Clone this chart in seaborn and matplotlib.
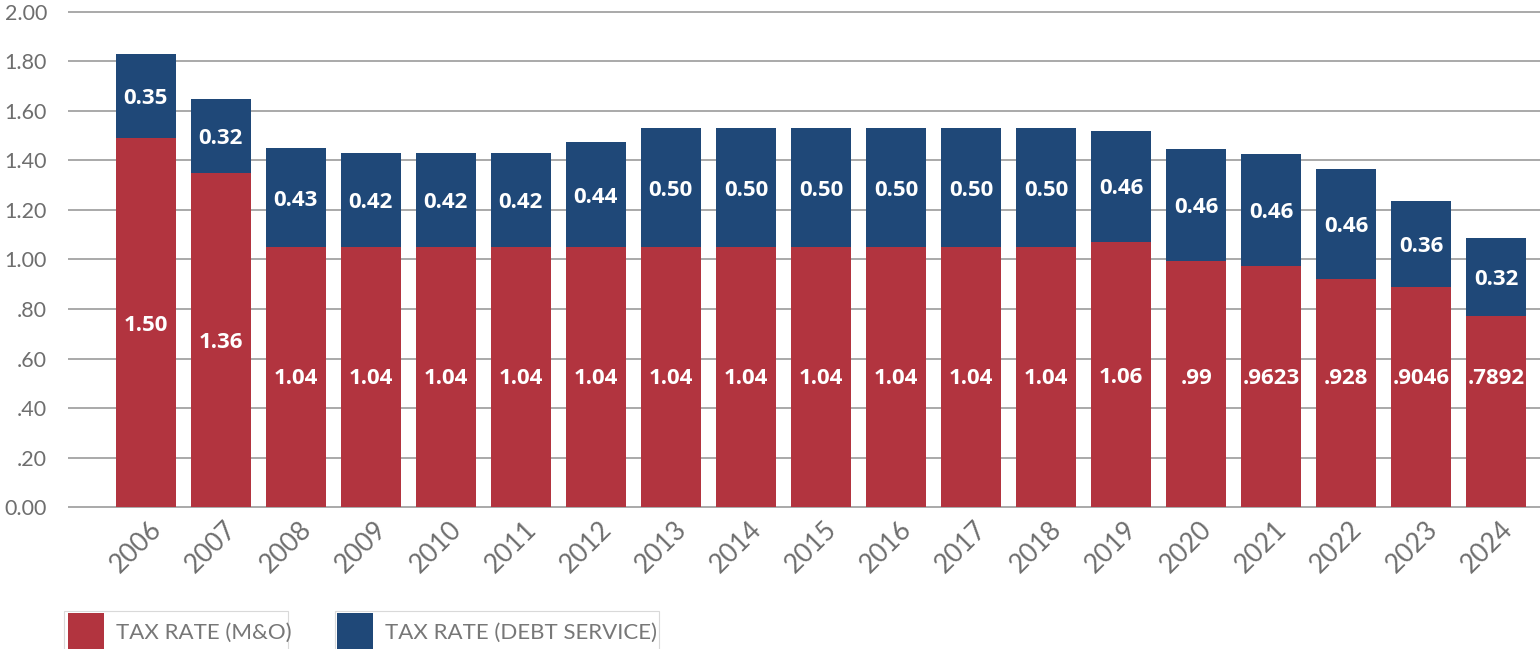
import matplotlib
matplotlib.use("Agg")
import matplotlib.pyplot as plt
import matplotlib.transforms as mtransforms
from matplotlib.patches import Rectangle
import pandas as pd
import seaborn as sns

# ---- data ----
years = ['2006', '2007', '2008', '2009', '2010', '2011', '2012', '2013', '2014',
         '2015', '2016', '2017', '2018', '2019', '2020', '2021', '2022', '2023', '2024']
mo_rate = [1.49, 1.35, 1.05, 1.05, 1.05, 1.05, 1.05, 1.05, 1.05,
           1.05, 1.05, 1.05, 1.05, 1.07, 0.995, 0.975, 0.92, 0.89, 0.77]
debt_rate = [0.34, 0.30, 0.40, 0.38, 0.38, 0.38, 0.425, 0.48, 0.48,
             0.48, 0.48, 0.48, 0.48, 0.45, 0.45, 0.45, 0.445, 0.345, 0.315]
mo_labels = ['1.50', '1.36', '1.04', '1.04', '1.04', '1.04', '1.04', '1.04', '1.04',
             '1.04', '1.04', '1.04', '1.04', '1.06', '.99', '.9623', '.928', '.9046', '.7892']
debt_labels = ['0.35', '0.32', '0.43', '0.42', '0.42', '0.42', '0.44', '0.50', '0.50',
               '0.50', '0.50', '0.50', '0.50', '0.46', '0.46', '0.46', '0.46', '0.36', '0.32']
y_ticks = [0.0, 0.2, 0.4, 0.6, 0.8, 1.0, 1.2, 1.4, 1.6, 1.8, 2.0]
y_tick_labels = ['0.00', '.20', '.40', '.60', '.80', '1.00', '1.20', '1.40', '1.60', '1.80', '2.00']
legend_labels = ['TAX RATE (M&O)', 'TAX RATE (DEBT SERVICE)']

RED = '#B2343F'
BLUE = '#1F4878'
GRID = '#a3a3a3'
TICK = '#6e6e6e'

df = pd.DataFrame({
    'year': years,
    'mo': mo_rate,
    'debt': debt_rate,
})
df['total'] = df['mo'] + df['debt']

sns.set_theme(style='white')
plt.rcParams['font.family'] = ['Lato', 'DejaVu Sans']

W, H = 1540, 649
fig = plt.figure(figsize=(W / 100, H / 100), dpi=100)
ax = fig.add_axes([68 / W, 1 - 508.5 / H, 1 - 68 / W, (508.5 - 10.5) / H])

order = years
sns.barplot(data=df, x='year', y='total', order=order, color=BLUE, saturation=1,
            width=0.8, ax=ax, zorder=3, linewidth=0)
sns.barplot(data=df, x='year', y='mo', order=order, color=RED, saturation=1,
            width=0.8, ax=ax, zorder=4, linewidth=0)

ax.set_ylim(-0.006, 2.006)
ax.set_xlim(-1.033, 18.581)
ax.set_yticks(y_ticks)
ax.set_yticklabels(y_tick_labels)
ax.yaxis.grid(True, color=GRID, linewidth=1.3)
ax.xaxis.grid(False)
ax.set_axisbelow(True)
for s in ax.spines.values():
    s.set_visible(False)
ax.set_xlabel('')
ax.set_ylabel('')
ax.tick_params(axis='y', length=0, pad=15, labelsize=15.5, labelcolor=TICK)
ax.tick_params(axis='x', length=0, pad=12, labelsize=19, labelcolor=TICK)
ax.set_xticks(range(len(years)))
ax.set_xticklabels(years, rotation=45, ha='right', va='center', rotation_mode='anchor')
offset = mtransforms.ScaledTranslation(12 / 100, 0, fig.dpi_scale_trans)
for lab in ax.get_xticklabels():
    lab.set_transform(lab.get_transform() + offset)

# value labels
for i in range(len(years)):
    mo = mo_rate[i]
    de = debt_rate[i]
    ax.text(i, max(mo / 2, 0.53), mo_labels[i], ha='center', va='center_baseline',
            color='white', fontsize=16, fontweight='bold', family='Open Sans', zorder=6)
    ax.text(i, mo + de / 2, debt_labels[i], ha='center', va='center_baseline',
            color='white', fontsize=16, fontweight='bold', family='Open Sans', zorder=6)

# legend: each entry in its own light frame, running off the bottom edge
def fx(px):
    return px / W

def fy(py):
    return 1 - py / H

legend_specs = [
    # colour, label, frame left, frame right, patch left, patch right, text left
    (RED, legend_labels[0], 64, 288, 67.7, 104, 116),
    (BLUE, legend_labels[1], 335, 659, 336.5, 373, 385),
]
for col, lab, f0, f1, p0, p1, t0 in legend_specs:
    fig.add_artist(Rectangle((fx(f0), fy(665)), fx(f1) - fx(f0), fy(610.7) - fy(665),
                             transform=fig.transFigure, facecolor='white',
                             edgecolor='#d9d9d9', linewidth=0.8, zorder=1))
    fig.add_artist(Rectangle((fx(p0), fy(665)), fx(p1) - fx(p0), fy(612.7) - fy(665),
                             transform=fig.transFigure, facecolor=col,
                             edgecolor='none', zorder=2))
    fig.text(fx(t0), fy(638.5), lab, ha='left', va='baseline', fontsize=16,
             color='#777777', zorder=3)

fig.savefig('out.png', dpi=100)
